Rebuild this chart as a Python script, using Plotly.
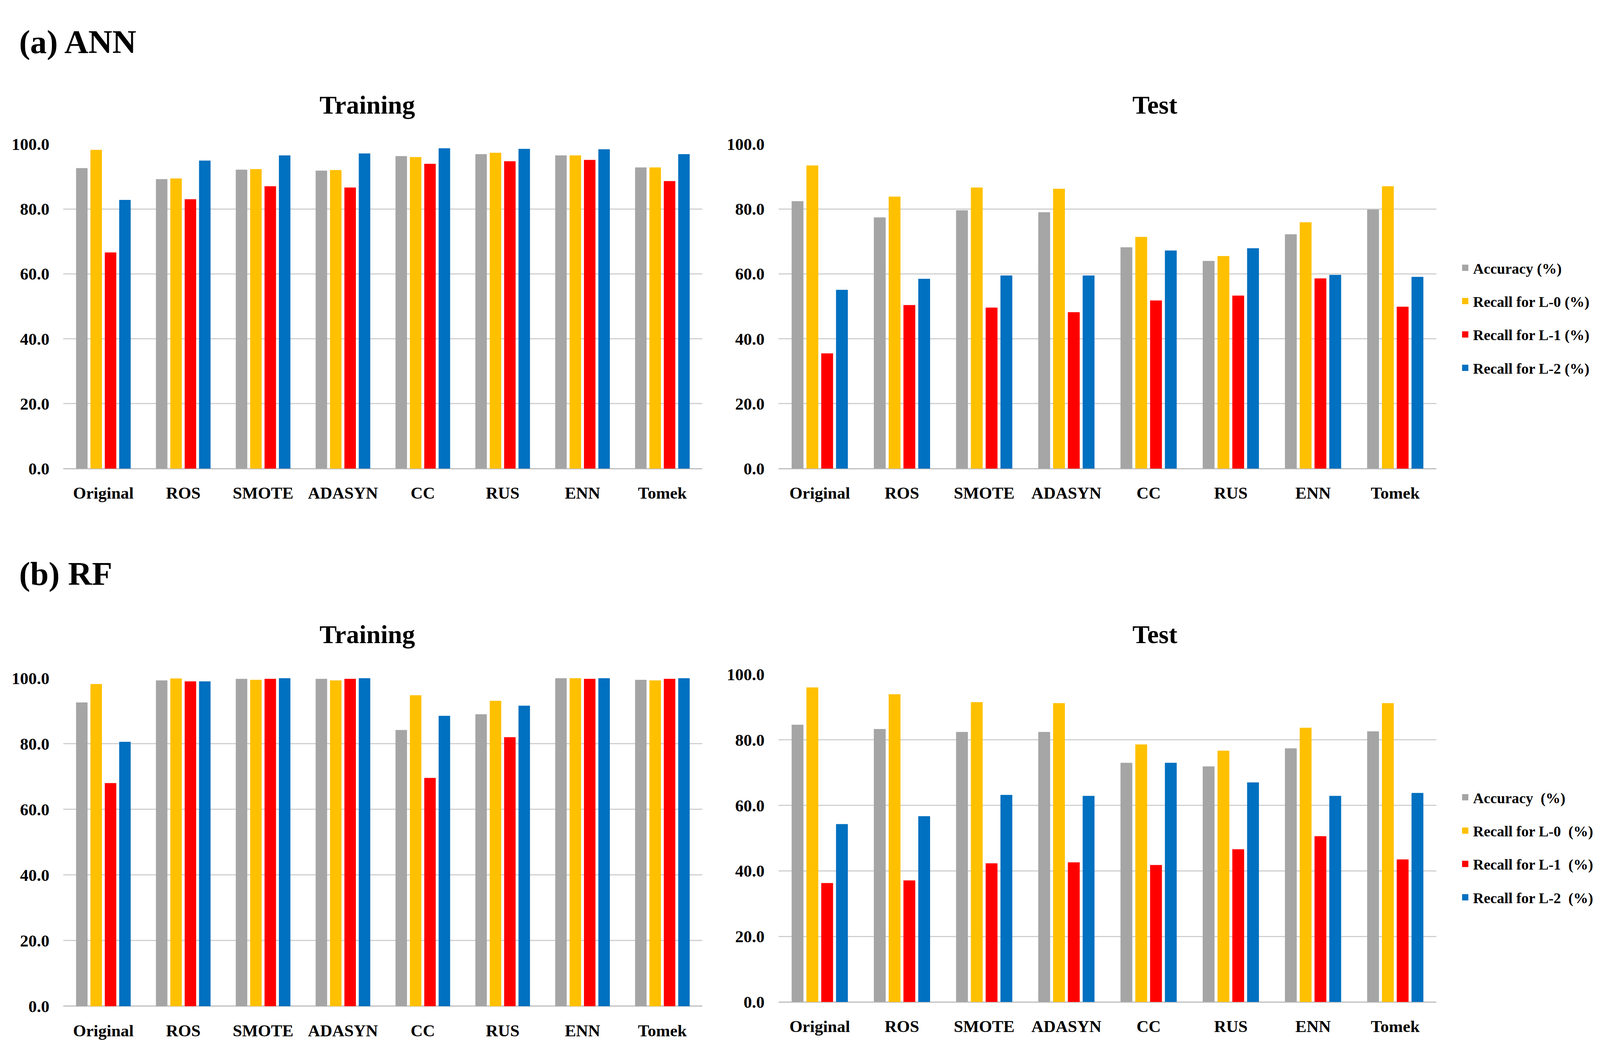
import plotly.graph_objects as go

categories = ["Original", "ROS", "SMOTE", "ADASYN", "CC", "RUS", "ENN", "Tomek"]
series_names = ["Accuracy (%)", "Recall for L-0 (%)", "Recall for L-1 (%)", "Recall for L-2 (%)"]
series_names_rf = ["Accuracy&nbsp; (%)", "Recall for L-0&nbsp; (%)", "Recall for L-1&nbsp; (%)", "Recall for L-2&nbsp; (%)"]
colors = ["#A5A5A5", "#FFC000", "#FF0000", "#0070C0"]
y_ticks = [0, 20, 40, 60, 80, 100]

# (a) ANN - Training
ann_train_acc = [92.6, 89.2, 92.1, 91.8, 96.3, 96.9, 96.5, 92.8]
ann_train_l0 = [98.2, 89.4, 92.3, 92.0, 96.0, 97.3, 96.5, 92.8]
ann_train_l1 = [66.6, 83.0, 87.0, 86.6, 93.9, 94.7, 95.1, 88.6]
ann_train_l2 = [82.8, 94.9, 96.5, 97.1, 98.7, 98.5, 98.4, 96.9]

# (a) ANN - Test
ann_test_acc = [82.4, 77.4, 79.6, 79.0, 68.2, 64.0, 72.2, 79.8]
ann_test_l0 = [93.4, 83.8, 86.6, 86.2, 71.4, 65.5, 75.9, 87.0]
ann_test_l1 = [35.5, 50.4, 49.6, 48.2, 51.8, 53.3, 58.6, 49.9]
ann_test_l2 = [55.1, 58.5, 59.5, 59.5, 67.2, 67.9, 59.7, 59.1]

# (b) RF - Training
rf_train_acc = [92.6, 99.3, 99.8, 99.8, 84.2, 89.0, 100.0, 99.5]
rf_train_l0 = [98.2, 99.9, 99.5, 99.3, 94.8, 93.1, 100.0, 99.3]
rf_train_l1 = [68.0, 99.0, 99.8, 99.8, 69.6, 82.0, 99.8, 99.8]
rf_train_l2 = [80.6, 99.0, 100.0, 100.0, 88.5, 91.6, 100.0, 100.0]

# (b) RF - Test
rf_test_acc = [84.6, 83.3, 82.4, 82.4, 73.0, 71.9, 77.4, 82.6]
rf_test_l0 = [96.0, 93.9, 91.5, 91.2, 78.6, 76.7, 83.7, 91.2]
rf_test_l1 = [36.3, 37.1, 42.3, 42.6, 41.8, 46.6, 50.6, 43.5]
rf_test_l2 = [54.3, 56.7, 63.2, 62.9, 73.0, 67.0, 62.9, 63.8]

# reference geometry (reference pixels) -> paper fractions
W, H = 5094, 2707
FONT = "Liberation Serif"

def fx(p):
    return p / W

def fy(p):
    return 1 - p / H

panels = [
    ([ann_train_acc, ann_train_l0, ann_train_l1, ann_train_l2], "x", "y"),
    ([ann_test_acc, ann_test_l0, ann_test_l1, ann_test_l2], "x2", "y2"),
    ([rf_train_acc, rf_train_l0, rf_train_l1, rf_train_l2], "x3", "y3"),
    ([rf_test_acc, rf_test_l0, rf_test_l1, rf_test_l2], "x4", "y4"),
]

fig = go.Figure()
for series, xa, ya in panels:
    for i, vals in enumerate(series):
        fig.add_trace(go.Bar(
            x=categories, y=vals, name=series_names[i],
            marker=dict(color=colors[i], line=dict(width=0)),
            xaxis=xa, yaxis=ya, showlegend=False,
        ))

# legend entries (square swatches) for the two legends
for leg, names, xa, ya in [("legend", series_names, "x2", "y2"), ("legend2", series_names_rf, "x4", "y4")]:
    for i, nm in enumerate(names):
        fig.add_trace(go.Scatter(
            x=[None], y=[None], mode="markers", name=nm,
            marker=dict(symbol="square", size=16, color=colors[i]),
            xaxis=xa, yaxis=ya, legend=leg, legendgroup=f"{leg}_{i}", showlegend=True,
        ))

tickfont = dict(family=FONT, size=43, color="black", weight="bold")
grid_color = "#D0D0D0"

def xaxis(domain, anchor):
    return dict(domain=domain, anchor=anchor, tickfont=tickfont, showgrid=False,
                showline=False, ticks="", ticklabelstandoff=33, fixedrange=True)

def yaxis(domain, anchor):
    return dict(domain=domain, anchor=anchor, range=[0, 100], tickvals=y_ticks,
                tickformat=".1f", tickfont=tickfont, showgrid=True, gridcolor=grid_color,
                gridwidth=3, zeroline=True, zerolinecolor="#BFBFBF", zerolinewidth=3,
                showline=False, ticks="", ticklabelstandoff=35, fixedrange=True)

legend_font = dict(family=FONT, size=38, color="black", weight="bold")

fig.update_layout(
    autosize=True,
    margin=dict(l=0, r=0, t=0, b=0, pad=0),
    paper_bgcolor="white", plot_bgcolor="white",
    barmode="group", bargap=0.28, bargroupgap=0.20,
    font=dict(family=FONT, color="black"),
    xaxis=xaxis([fx(202), fx(2236)], "y"), yaxis=yaxis([fy(1198), fy(352)], "x"),
    xaxis2=xaxis([fx(2479), fx(4573)], "y2"), yaxis2=yaxis([fy(1198), fy(352)], "x2"),
    xaxis3=xaxis([fx(202), fx(2236)], "y3"), yaxis3=yaxis([fy(2599), fy(1744)], "x3"),
    xaxis4=xaxis([fx(2479), fx(4573)], "y4"), yaxis4=yaxis([fy(2588), fy(1734)], "x4"),
    legend=dict(x=fx(4640), y=fy(805), xanchor="left", yanchor="middle",
                font=legend_font, tracegroupgap=33, itemwidth=30,
                bgcolor="rgba(0,0,0,0)", itemclick=False, itemdoubleclick=False),
    legend2=dict(x=fx(4640), y=fy(2185), xanchor="left", yanchor="middle",
                 font=legend_font, tracegroupgap=33, itemwidth=30,
                 bgcolor="rgba(0,0,0,0)", itemclick=False, itemdoubleclick=False),
    showlegend=True,
)

annotations = [
    ("<b>(a) ANN</b>", 59, 86, "left", 85),
    ("<b>Training</b>", 1170, 250, "center", 66),
    ("<b>Test</b>", 3677, 250, "center", 66),
    ("<b>(b) RF</b>", 59, 1472, "left", 85),
    ("<b>Training</b>", 1170, 1630, "center", 66),
    ("<b>Test</b>", 3677, 1630, "center", 66),
]
for text, x, y, xanchor, size in annotations:
    fig.add_annotation(text=text, x=fx(x), y=fy(y), xref="paper", yref="paper",
                       xanchor=xanchor, yanchor="middle", showarrow=False,
                       font=dict(family=FONT, size=size, color="black"))

fig.write_html(
    "out.html",
    default_width="100vw",
    default_height="100vh",
    config={"displayModeBar": False},
    post_script="document.body.style.margin='0';document.body.style.overflow='hidden';",
)
